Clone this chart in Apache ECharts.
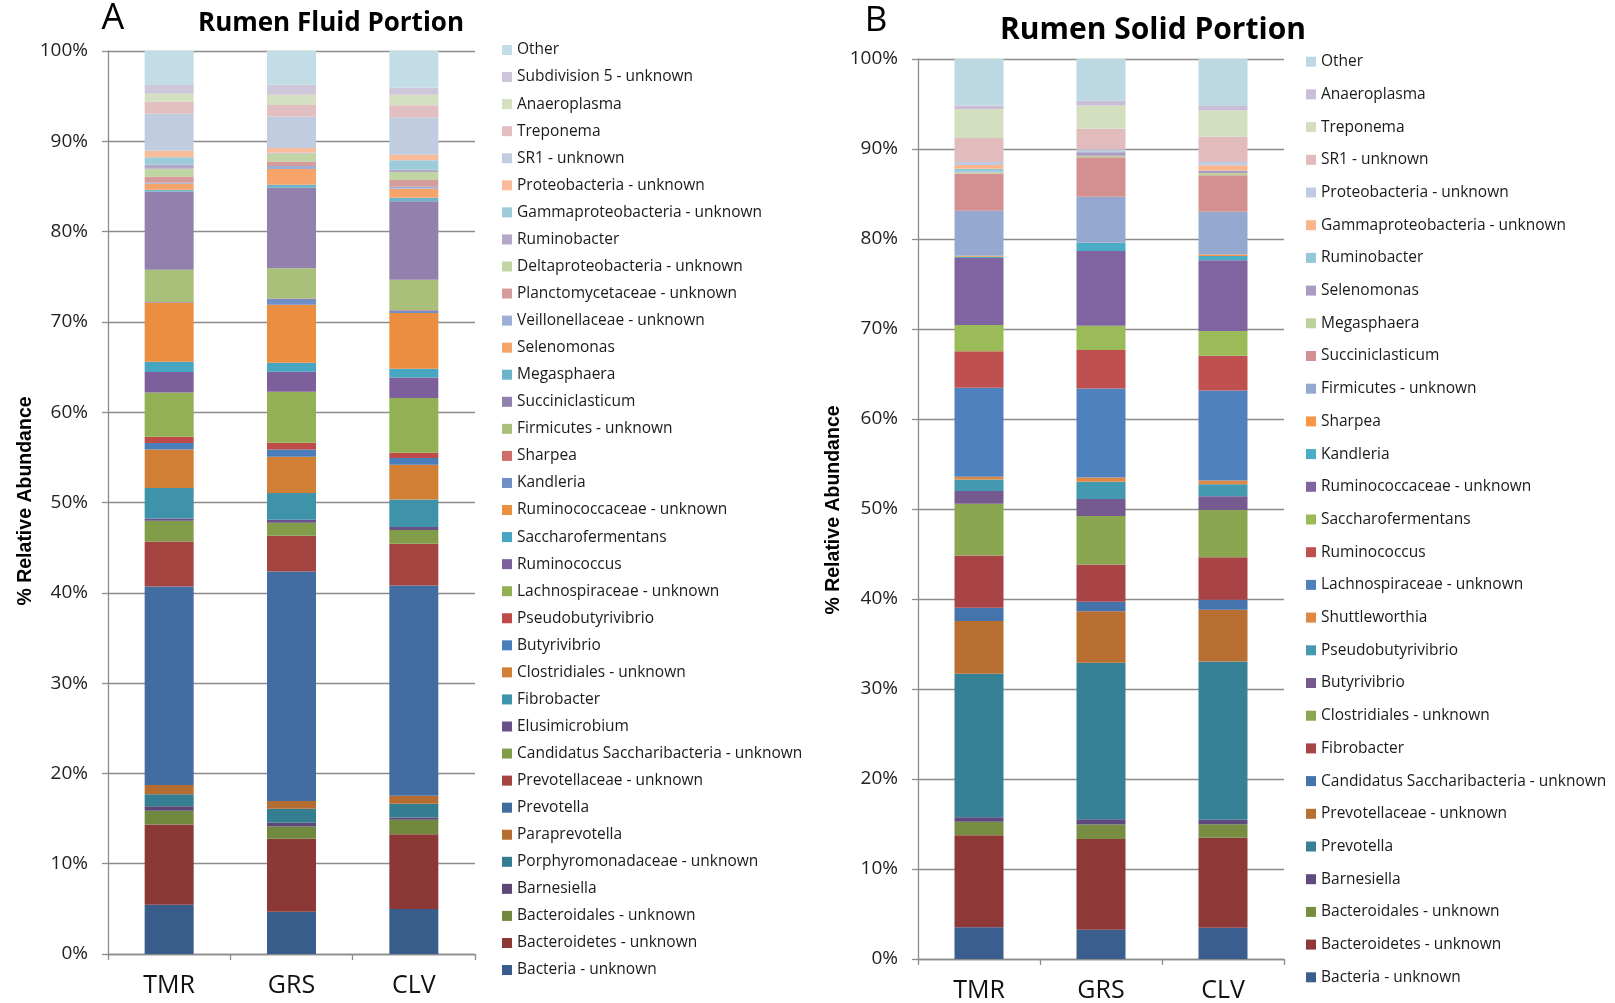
<!DOCTYPE html>
<html>
<head>
<meta charset="utf-8">
<script src="https://cdn.jsdelivr.net/npm/echarts@6/dist/echarts.min.js"></script>
<style>
html, body { margin: 0; padding: 0; background: #fff; }
#main { width: 1615px; height: 1003px; }
</style>
</head>
<body>
<div id="main"></div>
<script>
// groups on the x axis
var groups = ['TMR', 'GRS', 'CLV'];
var yTicks = ['0%', '10%', '20%', '30%', '40%', '50%', '60%', '70%', '80%', '90%', '100%'];

// A - fluid portion, taxa from bottom of the stack to top
var fluidTaxa = ['Bacteria - unknown', 'Bacteroidetes - unknown', 'Bacteroidales - unknown', 'Barnesiella',
    'Porphyromonadaceae - unknown', 'Paraprevotella', 'Prevotella', 'Prevotellaceae - unknown',
    'Candidatus Saccharibacteria - unknown', 'Elusimicrobium', 'Fibrobacter', 'Clostridiales - unknown',
    'Butyrivibrio', 'Pseudobutyrivibrio', 'Lachnospiraceae - unknown', 'Ruminococcus', 'Saccharofermentans',
    'Ruminococcaceae - unknown', 'Kandleria', 'Sharpea', 'Firmicutes - unknown', 'Succiniclasticum',
    'Megasphaera', 'Selenomonas', 'Veillonellaceae - unknown', 'Planctomycetaceae - unknown',
    'Deltaproteobacteria - unknown', 'Ruminobacter', 'Gammaproteobacteria - unknown',
    'Proteobacteria - unknown', 'SR1 - unknown', 'Treponema', 'Anaeroplasma', 'Subdivision 5 - unknown', 'Other'];
var fluidTMR = [5.46, 8.88, 1.53, 0.48, 1.33, 1.03, 22.00, 4.98, 2.29, 0.26, 3.36, 4.28, 0.71, 0.70, 4.90, 2.26, 1.14,
    6.50, 0.06, 0.05, 3.58, 8.67, 0.19, 0.66, 0.10, 0.71, 0.86, 0.44, 0.81, 0.74, 4.10, 1.33, 0.88, 0.96, 3.77];
var fluidGRS = [4.68, 8.09, 1.36, 0.41, 1.55, 0.85, 25.43, 3.95, 1.44, 0.33, 2.96, 4.02, 0.81, 0.74, 5.65, 2.22, 0.99,
    6.42, 0.63, 0.07, 3.33, 8.93, 0.33, 1.74, 0.33, 0.51, 0.86, 0.05, 0.05, 0.53, 3.50, 1.26, 1.14, 1.11, 3.73];
var fluidCLV = [4.98, 8.27, 1.62, 0.26, 1.52, 0.88, 23.29, 4.62, 1.51, 0.34, 3.05, 3.85, 0.74, 0.58, 6.06, 2.28, 0.96,
    6.17, 0.29, 0.05, 3.35, 8.68, 0.40, 1.00, 0.22, 0.74, 0.89, 0.25, 1.04, 0.63, 4.13, 1.33, 1.18, 0.81, 4.03];
var fluidColors = ['#385D8A', '#8C3836', '#71893F', '#5C4776', '#357D91', '#B66D31', '#426DA1', '#A44441',
    '#829D49', '#6A5088', '#3E93AB', '#D17F35', '#4A7EBB', '#BE4B48', '#93B055', '#7D609B', '#46A5C0',
    '#EB8E40', '#6F8FC6', '#CD6E6B', '#A8C07A', '#9381AD', '#6CB3CB', '#F6A46A', '#9DAFD6', '#D49C9B',
    '#C1D4A3', '#B4A7C8', '#9DCBDA', '#F9BC9A', '#C2CCE1', '#E2BFC1', '#D5DFC2', '#CEC6D9', '#C2DDE6'];

// B - solid portion
var solidTaxa = ['Bacteria - unknown', 'Bacteroidetes - unknown', 'Bacteroidales - unknown', 'Barnesiella',
    'Prevotella', 'Prevotellaceae - unknown', 'Candidatus Saccharibacteria - unknown', 'Fibrobacter',
    'Clostridiales - unknown', 'Butyrivibrio', 'Pseudobutyrivibrio', 'Shuttleworthia', 'Lachnospiraceae - unknown',
    'Ruminococcus', 'Saccharofermentans', 'Ruminococcaceae - unknown', 'Kandleria', 'Sharpea',
    'Firmicutes - unknown', 'Succiniclasticum', 'Megasphaera', 'Selenomonas', 'Ruminobacter',
    'Gammaproteobacteria - unknown', 'Proteobacteria - unknown', 'SR1 - unknown', 'Treponema', 'Anaeroplasma', 'Other'];
var solidTMR = [3.54, 10.22, 1.48, 0.51, 15.95, 5.86, 1.48, 5.79, 5.76, 1.40, 1.29, 0.30, 9.89, 4.06, 2.91,
    7.45, 0.15, 0.10, 4.99, 4.16, 0.12, 0.07, 0.33, 0.41, 0.33, 2.66, 3.24, 0.37, 5.17];
var solidGRS = [3.24, 10.08, 1.62, 0.59, 17.38, 5.72, 1.07, 4.13, 5.39, 1.88, 1.93, 0.47, 9.89, 4.28, 2.70,
    8.30, 0.88, 0.03, 5.11, 4.38, 0.19, 0.37, 0.11, 0.05, 0.17, 2.29, 2.58, 0.52, 4.65];
var solidCLV = [3.47, 9.99, 1.52, 0.48, 17.60, 5.75, 1.11, 4.73, 5.23, 1.55, 1.33, 0.41, 10.00, 3.87, 2.74,
    7.86, 0.47, 0.16, 4.76, 4.05, 0.26, 0.22, 0.05, 0.58, 0.37, 2.80, 2.92, 0.51, 5.21];
var solidColors = ['#3A5F8E', '#8F3838', '#768D42', '#5E4A7C', '#378196', '#B96F31', '#4573AC', '#A94446',
    '#8AA650', '#745A8E', '#4399AF', '#DE8843', '#4F81BD', '#C0504F', '#9BBB59', '#8064A2', '#4BACC6',
    '#F79646', '#95A9D0', '#D29190', '#BCD29B', '#AC9AC5', '#93C8DA', '#FAB68A', '#BFCBE4', '#E2BBBD',
    '#D3DFBF', '#CABDD8', '#BCD8E2'];

var font = 'Open Sans';
var lineCol = '#8c8c8c';

function makeXAxis(idx) {
    return {
        type: 'category', gridIndex: idx, data: groups,
        axisLine: { lineStyle: { color: lineCol, width: 1.3 } },
        axisTick: { show: true, length: 6, lineStyle: { color: lineCol, width: 1.3 } },
        axisLabel: { fontFamily: font, fontSize: 25, color: '#111', margin: 19 }
    };
}
function makeYAxis(idx) {
    return {
        type: 'value', gridIndex: idx, min: 0, max: 100, interval: 10,
        axisLine: { show: true, lineStyle: { color: lineCol, width: 1.3 } },
        axisTick: { show: true, length: 6, lineStyle: { color: lineCol, width: 1.3 } },
        splitLine: { lineStyle: { color: lineCol, width: 1.3 } },
        axisLabel: { fontFamily: font, fontSize: 19, color: '#222', margin: 20,
            formatter: function(v) { return yTicks[Math.round(v / 10)]; } }
    };
}

var series = [];
for (var i = 0; i < fluidTaxa.length; i++) {
    series.push({
        name: fluidTaxa[i], type: 'bar', stack: 'fluid', xAxisIndex: 0, yAxisIndex: 0,
        barWidth: 49, itemStyle: { color: fluidColors[i] },
        data: [fluidTMR[i], fluidGRS[i], fluidCLV[i]]
    });
}
for (var j = 0; j < solidTaxa.length; j++) {
    series.push({
        name: solidTaxa[j], type: 'bar', stack: 'solid', xAxisIndex: 1, yAxisIndex: 1,
        barWidth: 49, itemStyle: { color: solidColors[j] },
        data: [solidTMR[j], solidGRS[j], solidCLV[j]]
    });
}

// legends list top to bottom, colour given per item since names repeat between panels
var fluidLegend = [], solidLegend = [];
for (var a = fluidTaxa.length - 1; a >= 0; a--) {
    fluidLegend.push({ name: fluidTaxa[a], itemStyle: { color: fluidColors[a] } });
}
for (var b = solidTaxa.length - 1; b >= 0; b--) {
    solidLegend.push({ name: solidTaxa[b], itemStyle: { color: solidColors[b] } });
}

var legendText = { fontFamily: font, fontSize: 15.5, color: '#1a1a1a', lineHeight: 16 };

var option = {
    animation: false,
    backgroundColor: '#fff',
    grid: [
        { left: 108, top: 51, width: 367, height: 903 },
        { left: 918, top: 59, width: 366, height: 903 }
    ],
    xAxis: [makeXAxis(0), makeXAxis(1)],
    yAxis: [makeYAxis(0), makeYAxis(1)],
    legend: [
        { orient: 'vertical', left: 502, top: 42, padding: 0, itemWidth: 10, itemHeight: 10, itemGap: 11.06,
          icon: 'rect', selectedMode: false, textStyle: legendText, data: fluidLegend },
        { orient: 'vertical', left: 1306, top: 53.7, padding: 0, itemWidth: 10, itemHeight: 10, itemGap: 16.7,
          icon: 'rect', selectedMode: false, textStyle: legendText, data: solidLegend }
    ],
    graphic: [
        { type: 'text', x: 113, y: 19, style: { text: 'A', fontFamily: font, fontSize: 36, fill: '#000',
            textAlign: 'center', textVerticalAlign: 'middle' } },
        { type: 'text', x: 331, y: 24, style: { text: 'Rumen Fluid Portion', fontFamily: font, fontWeight: 'bold',
            fontSize: 26, fill: '#000', textAlign: 'center', textVerticalAlign: 'middle' } },
        { type: 'text', x: 876, y: 21, style: { text: 'B', fontFamily: font, fontSize: 35, fill: '#000',
            textAlign: 'center', textVerticalAlign: 'middle' } },
        { type: 'text', x: 1153, y: 30, style: { text: 'Rumen Solid Portion', fontFamily: font, fontWeight: 'bold',
            fontSize: 30, fill: '#000', textAlign: 'center', textVerticalAlign: 'middle' } },
        { type: 'text', x: 26, y: 501, rotation: Math.PI / 2, style: { text: '% Relative Abundance',
            fontFamily: 'Liberation Sans', fontWeight: 'bold', fontSize: 19.5, fill: '#000',
            textAlign: 'center', textVerticalAlign: 'middle' } },
        { type: 'text', x: 834, y: 510, rotation: Math.PI / 2, style: { text: '% Relative Abundance',
            fontFamily: 'Liberation Sans', fontWeight: 'bold', fontSize: 19.5, fill: '#000',
            textAlign: 'center', textVerticalAlign: 'middle' } }
    ],
    series: series
};

var myChart = echarts.init(document.getElementById('main'), null, { renderer: 'canvas' });
myChart.setOption(option);
</script>
</body>
</html>
